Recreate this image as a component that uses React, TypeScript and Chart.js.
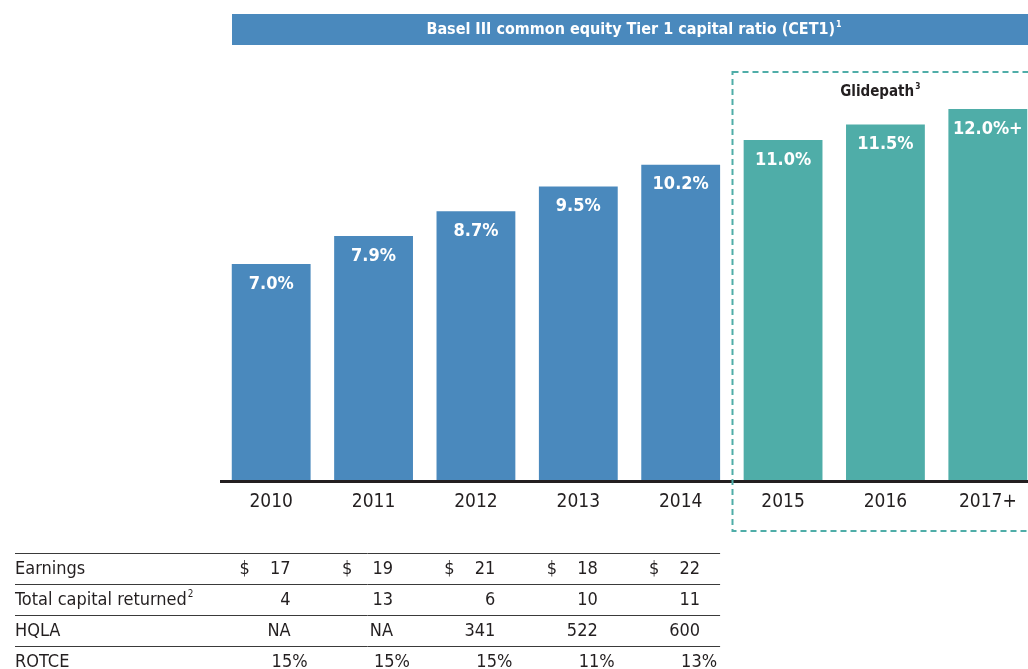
import React, { useEffect, useRef } from "react";
import { Chart, registerables } from "chart.js";

Chart.register(...registerables);

// ---------- data ----------
const categories = ["2010", "2011", "2012", "2013", "2014", "2015", "2016", "2017+"];
const cet1Values = [7.0, 7.9, 8.7, 9.5, 10.2, 11.0, 11.5, 12.0];
const cet1Labels = ["7.0%", "7.9%", "8.7%", "9.5%", "10.2%", "11.0%", "11.5%", "12.0%+"];
const historicalCount = 5;

const titleText = "Basel III common equity Tier 1 capital ratio (CET1)";
const titleNote = "1";
const glideText = "Glidepath";
const glideNote = "3";

const tableRowLabels = ["Earnings", "Total capital returned", "HQLA", "ROTCE"];
const tableRowNotes = ["", "2", "", ""];
const earnings = ["17", "19", "21", "18", "22"];
const capitalReturned = ["4", "13", "6", "10", "11"];
const hqla = ["NA", "NA", "341", "522", "600"];
const rotce = ["15%", "15%", "15%", "11%", "13%"];

// ---------- styles ----------
const BLUE = "#4a89bd";
const TEAL = "#4fada8";
const INK = "#231f20";
const FAMILY = '"DejaVu Sans Condensed", "DejaVu Sans", sans-serif';

function font(size: number, bold = false) {
  return `${bold ? "bold " : ""}condensed ${size}px ${FAMILY}`;
}

function setFont(ctx: CanvasRenderingContext2D, size: number, bold = false) {
  ctx.font = font(size, bold);
  try {
    (ctx as any).fontStretch = "condensed";
  } catch (e) {}
}

function drawWithSup(
  ctx: CanvasRenderingContext2D,
  text: string,
  sup: string,
  x: number,
  y: number,
  size: number,
  bold: boolean,
  align: "left" | "center"
) {
  setFont(ctx, size, bold);
  const w = ctx.measureText(text).width;
  setFont(ctx, size * 0.55, bold);
  const sw = sup ? ctx.measureText(sup).width + 1 : 0;
  const startX = align === "center" ? x - (w + sw) / 2 : x;
  setFont(ctx, size, bold);
  ctx.textAlign = "left";
  ctx.textBaseline = "middle";
  ctx.fillText(text, startX, y);
  if (sup) {
    setFont(ctx, size * 0.55, bold);
    ctx.fillText(sup, startX + w + 1, y - size * 0.32);
  }
}

const decorPlugin = {
  id: "decor",
  afterDatasetsDraw(chart: any) {
    const ctx: CanvasRenderingContext2D = chart.ctx;
    const xs = chart.scales.x;
    const area = chart.chartArea;
    const meta = chart.getDatasetMeta(0);
    ctx.save();

    // header band
    ctx.fillStyle = BLUE;
    ctx.fillRect(232, 14, 820, 31);
    ctx.fillStyle = "#ffffff";
    drawWithSup(ctx, titleText, titleNote, 634, 30, 16, true, "center");

    // bar value labels
    meta.data.forEach((bar: any, i: number) => {
      ctx.fillStyle = "#ffffff";
      setFont(ctx, 18, true);
      ctx.textAlign = "center";
      ctx.textBaseline = "middle";
      ctx.fillText(cet1Labels[i], bar.x, bar.y + 20);
    });

    // axis line
    ctx.fillStyle = INK;
    ctx.fillRect(220, area.bottom - 1, 830, 3);

    // category labels
    ctx.fillStyle = INK;
    categories.forEach((c, i) => {
      setFont(ctx, 19, false);
      ctx.textAlign = "center";
      ctx.textBaseline = "middle";
      ctx.fillText(c, xs.getPixelForValue(i), 502);
    });

    // glidepath dashed box
    const step = xs.width / categories.length;
    const boxLeft = Math.round(area.left + step * historicalCount) + 0.5;
    ctx.strokeStyle = TEAL;
    ctx.lineWidth = 2;
    ctx.setLineDash([6, 4]);
    ctx.strokeRect(boxLeft, 72, 1100 - boxLeft, 459);
    ctx.setLineDash([]);
    ctx.fillStyle = INK;
    const glideCenter = (boxLeft + 1028) / 2;
    drawWithSup(ctx, glideText, glideNote, glideCenter, 92, 15, true, "center");

    // table
    const rows = [earnings, capitalReturned, hqla, rotce];
    const half = meta.data[0].width / 2;
    const tableRight = meta.data[historicalCount - 1].x + half;
    ctx.strokeStyle = "#3a3a3a";
    ctx.lineWidth = 1;
    [553, 584, 615, 646].forEach((y) => {
      ctx.beginPath();
      ctx.moveTo(15, y + 0.5);
      ctx.lineTo(tableRight, y + 0.5);
      ctx.stroke();
    });
    rows.forEach((vals, r) => {
      const y = 569.5 + r * 30.8;
      ctx.fillStyle = INK;
      drawWithSup(ctx, tableRowLabels[r], tableRowNotes[r], 15, y, 18, false, "left");
      vals.forEach((v, i) => {
        const cx = xs.getPixelForValue(i);
        setFont(ctx, 18, false);
        ctx.textBaseline = "middle";
        ctx.textAlign = "right";
        const isPct = v.endsWith("%");
        ctx.fillText(v, isPct ? cx + half - 3 : cx + half - 20, y);
        if (r === 0) {
          ctx.textAlign = "center";
          ctx.fillText("$", cx - half + 13, y);
        }
      });
    });

    ctx.restore();
  },
};

export default function App() {
  const ref = useRef<HTMLCanvasElement | null>(null);

  useEffect(() => {
    if (!ref.current) return;
    const colors = cet1Values.map((_, i) => (i < historicalCount ? BLUE : TEAL));
    const chart = new Chart(ref.current, {
      type: "bar",
      data: {
        labels: categories,
        datasets: [
          {
            data: cet1Values,
            backgroundColor: colors,
            borderWidth: 0,
            categoryPercentage: 1,
            barPercentage: 0.77,
          },
        ],
      },
      options: {
        responsive: false,
        animation: false,
        layout: { padding: { left: 220, right: 1, top: 47, bottom: 188 } },
        scales: {
          x: { display: false },
          y: { display: false, min: 0, max: 14 },
        },
        plugins: {
          legend: { display: false },
          tooltip: { enabled: false },
        },
      },
      plugins: [decorPlugin],
    });
    return () => chart.destroy();
  }, []);

  return (
    <div
      style={{
        position: "fixed",
        left: 0,
        top: 0,
        width: 1028,
        height: 669,
        overflow: "hidden",
        background: "#ffffff",
      }}
    >
      <canvas ref={ref} width={1040} height={669} style={{ display: "block" }} />
    </div>
  );
}
